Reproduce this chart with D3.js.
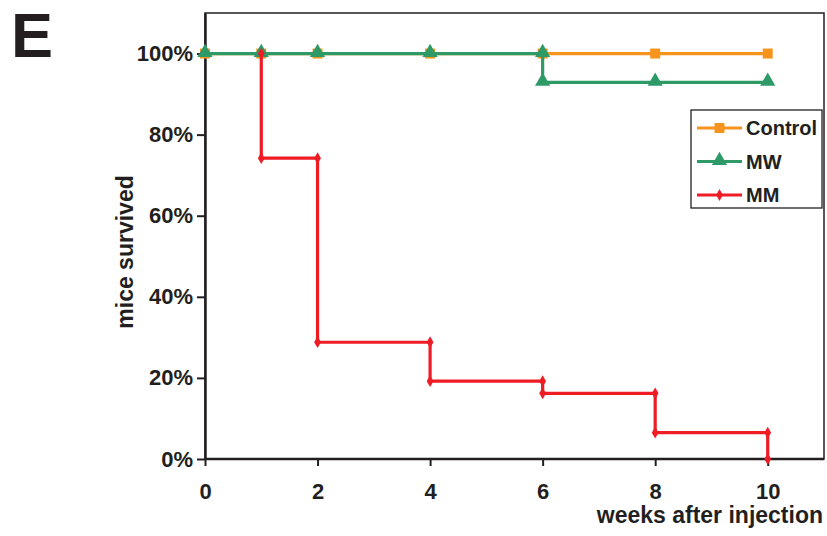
<!DOCTYPE html>
<html><head><meta charset="utf-8">
<script src="https://cdn.jsdelivr.net/npm/d3@7"></script>
<style>
body{margin:0;background:#fff;}
svg{display:block;font-family:"Liberation Sans",Arial,sans-serif;font-weight:bold;}
</style></head>
<body><svg id="chart" width="827" height="536"></svg>
<script>
// ---- data ----
const seriesNames = ["Control", "MW", "MM"];
const controlWeeks = [0, 1, 2, 4, 6, 8, 10];
const controlSurv  = [1, 1, 1, 1, 1, 1, 1];
const mwWeeks = [0, 1, 2, 4, 6, 6, 8, 10];
const mwSurv  = [1, 1, 1, 1, 1, 0.929, 0.929, 0.929];
const mmWeeks = [1, 1, 2, 2, 4, 4, 6, 6, 8, 8, 10, 10];
const mmSurv  = [1, 0.742, 0.742, 0.288, 0.288, 0.192, 0.192, 0.162, 0.162, 0.065, 0.065, 0];
const xTicks = [0, 2, 4, 6, 8, 10];
const yTicks = [0, 0.2, 0.4, 0.6, 0.8, 1.0];
const xTitle = "weeks after injection";
const yTitle = "mice survived";
const panelLabel = "E";

// ---- layout ----
const colors = {Control: "#F7941D", MW: "#2E9A68", MM: "#EE1C25"};
const L = 205, R = 824, T = 13, B = 459;
const x = d3.scaleLinear().domain([0, 11]).range([L, R]);
const y = d3.scaleLinear().domain([0, 1.1]).range([B, T]);

const svg = d3.select("#chart");

// frame
svg.append("rect").attr("x", L).attr("y", T).attr("width", R - L).attr("height", B - T)
  .attr("fill", "none").attr("stroke", "#231F20").attr("stroke-width", 1.5);

// axes
const xAxis = svg.append("g").attr("transform", `translate(0,${B})`)
  .call(d3.axisBottom(x).tickValues(xTicks).tickSize(7).tickSizeOuter(0).tickPadding(17).tickFormat(d3.format("d")));
const yAxis = svg.append("g").attr("transform", `translate(${L},0)`)
  .call(d3.axisLeft(y).tickValues(yTicks).tickSize(8).tickSizeOuter(0).tickPadding(4).tickFormat(d3.format(".0%")));
[xAxis, yAxis].forEach(a => {
  a.select(".domain").attr("stroke", "#231F20").attr("stroke-width", 2.5);
  a.selectAll(".tick line").attr("stroke", "#231F20").attr("stroke-width", 2);
  a.selectAll(".tick text").attr("fill", "#231F20").style("font-size", "22px")
    .style("font-family", "'Liberation Sans',Arial,sans-serif").style("font-weight", "bold");
});
xAxis.select(".domain").attr("d", `M${L},0H${R}`);

// titles
svg.append("text").attr("x", 823).attr("y", 523).attr("text-anchor", "end")
  .style("font-size", "23px").attr("fill", "#231F20").text(xTitle);
svg.append("text").attr("transform", "translate(133,252) rotate(-90)").attr("text-anchor", "middle")
  .style("font-size", "23px").attr("fill", "#231F20").text(yTitle);
svg.append("text").attr("x", 11).attr("y", 57)
  .style("font-size", "63px").attr("fill", "#231F20").text(panelLabel);

// series
const series = [
  {name: "Control", xs: controlWeeks, ys: controlSurv, shape: d3.symbolSquare, size: 100},
  {name: "MW", xs: mwWeeks, ys: mwSurv, shape: d3.symbolTriangle, size: 100},
  {name: "MM", xs: mmWeeks, ys: mmSurv, shape: d3.symbolDiamond, size: 40}
];
const line = d3.line().x(d => x(d[0])).y(d => y(d[1]));
series.forEach(s => {
  const pts = s.xs.map((w, i) => [w, s.ys[i]]);
  const g = svg.append("g");
  g.append("path").attr("d", line(pts)).attr("fill", "none")
    .attr("stroke", colors[s.name]).attr("stroke-width", 3.2);
  g.selectAll("path.m").data(pts).enter().append("path").attr("class", "m")
    .attr("d", d3.symbol().type(s.shape).size(s.size))
    .attr("transform", d => `translate(${x(d[0])},${y(d[1]) + (s.shape === d3.symbolTriangle ? -1 : 0)})`)
    .attr("fill", colors[s.name]);
});

// legend
const lg = svg.append("g");
lg.append("rect").attr("x", 691).attr("y", 110).attr("width", 131).attr("height", 98)
  .attr("fill", "#fff").attr("stroke", "#231F20").attr("stroke-width", 1.3);
const rowY = [128, 161.5, 195];
series.forEach((s, i) => {
  lg.append("line").attr("x1", 697).attr("x2", 742).attr("y1", rowY[i]).attr("y2", rowY[i])
    .attr("stroke", colors[s.name]).attr("stroke-width", 3.2);
  lg.append("path").attr("d", d3.symbol().type(s.shape).size(s.size))
    .attr("transform", `translate(719.5,${rowY[i] + (s.shape === d3.symbolTriangle ? -1 : 0)})`)
    .attr("fill", colors[s.name]);
  lg.append("text").attr("x", 746).attr("y", rowY[i] + 7).style("font-size", "20px")
    .attr("fill", "#231F20").text(s.name);
});
</script></body></html>
